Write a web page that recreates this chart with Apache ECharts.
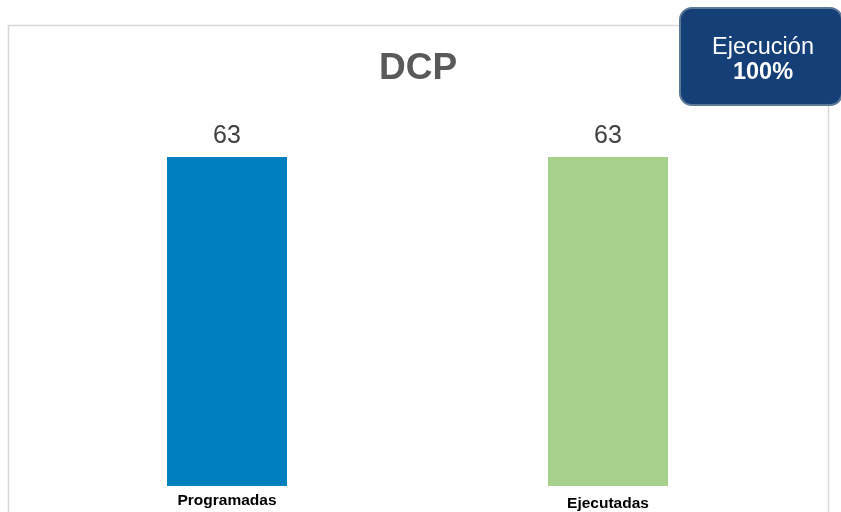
<!DOCTYPE html>
<html><head><meta charset="utf-8">
<script src="https://cdn.jsdelivr.net/npm/echarts@6/dist/echarts.min.js"></script>
<style>html,body{margin:0;padding:0;background:#fff}#c{width:841px;height:512px}</style>
</head><body><div id="c"></div>
<script>
const categories = ['Programadas', 'Ejecutadas'];
const values = [63, 63];
const barColors = ['#0080BE', '#A9D18E'];
const titleText = 'DCP';
const badgeLine1 = 'Ejecución';
const badgeLine2 = '100%';

const chart = echarts.init(document.getElementById('c'));
const yMax = 70;
const gridBottom = 25;
const plotH = 330 * yMax / 63;
const labelPads = [0, 3];
chart.setOption({
  animation: false,
  grid: { left: 36.5, right: 841 - 798.5, bottom: gridBottom, top: 512 - gridBottom - plotH },
  xAxis: {
    type: 'category',
    data: categories.map((c, i) => ({ value: c, textStyle: { padding: [labelPads[i], 0, 0, 0] } })),
    axisLine: { show: false }, axisTick: { show: false },
    axisLabel: {
      margin: 7, color: '#000',
      fontFamily: 'Liberation Sans, Arial', fontSize: 15.5, fontWeight: 'bold'
    }
  },
  yAxis: { type: 'value', min: 0, max: yMax, show: false, splitLine: { show: false } },
  series: [{
    type: 'bar', barWidth: 120,
    data: values.map((v, i) => ({ value: v, itemStyle: { color: barColors[i] } })),
    label: {
      show: true, position: 'top', distance: 8, color: '#404040',
      fontFamily: 'Liberation Sans, Arial', fontSize: 25
    }
  }],
  graphic: [
    { type: 'rect', z: -1, shape: { x: 8.5, y: 25.5, width: 820, height: 500 },
      style: { fill: 'none', stroke: '#d9d9d9', lineWidth: 1.5 } },
    { type: 'text', z: 5, style: { x: 418, y: 69, text: titleText, align: 'center', verticalAlign: 'middle',
      fill: '#595959', font: 'bold 37px "Liberation Sans", Arial' } },
    { type: 'rect', z: 10, shape: { x: 680, y: 8, width: 162, height: 97, r: 12 },
      style: { fill: '#153F77', stroke: '#5B7896', lineWidth: 2 } },
    { type: 'text', z: 11, style: { x: 763, y: 48, text: badgeLine1, align: 'center', verticalAlign: 'middle',
      fill: '#fff', font: '23.5px "Liberation Sans", Arial' } },
    { type: 'text', z: 11, style: { x: 763, y: 73, text: badgeLine2, align: 'center', verticalAlign: 'middle',
      fill: '#fff', font: 'bold 23.5px "Liberation Sans", Arial' } }
  ]
});
</script></body></html>
